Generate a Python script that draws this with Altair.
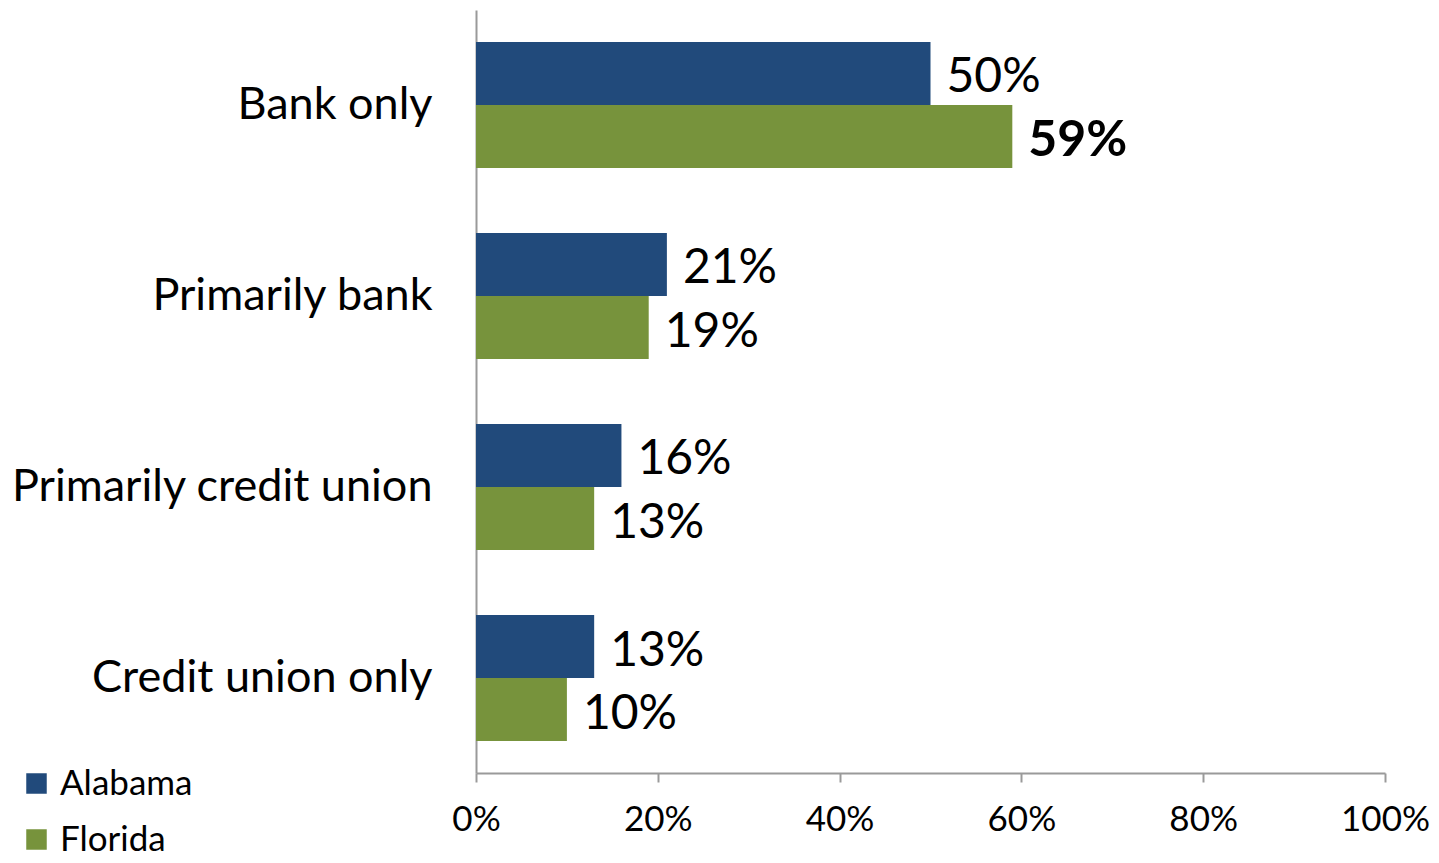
import altair as alt
import pandas as pd

categories = ["Bank only", "Primarily bank", "Primarily credit union", "Credit union only"]
series = ["Alabama", "Florida"]
alabama = [50, 21, 16, 13]
florida = [59, 19, 13, 10]
x_ticks = [0, 20, 40, 60, 80, 100]

rows = []
for c, a, f in zip(categories, alabama, florida):
    rows.append({"category": c, "state": "Alabama", "value": a})
    rows.append({"category": c, "state": "Florida", "value": f})
df = pd.DataFrame(rows)

FONT = "Lato"
colors = ["#214a7b", "#77933c"]

y_enc = alt.Y("category:N", sort=categories,
              scale=alt.Scale(paddingInner=0.34, paddingOuter=0.167),
              axis=alt.Axis(title=None, ticks=False, labelFontSize=45, labelFont=FONT,
                            labelColor="#000000", labelPadding=44, domainColor="#9a9a9a",
                            domainWidth=2, labelLimit=600))
yoff = alt.YOffset("state:N", sort=series, scale=alt.Scale(paddingInner=0, paddingOuter=0))
x_enc = alt.X("value:Q", scale=alt.Scale(domain=[0, 100], nice=False),
              axis=alt.Axis(title=None, values=x_ticks, labelExpr="datum.value + '%'",
                            grid=False, tickSize=9, tickColor="#9a9a9a", domainColor="#9a9a9a",
                            domainWidth=2, tickWidth=2, labelFlush=False, labelOverlap=False,
                            labelFontSize=35, labelFont=FONT, labelColor="#000000", labelPadding=20))

base = alt.Chart(df)
bars = base.mark_bar().encode(
    x=x_enc, y=y_enc, yOffset=yoff,
    color=alt.Color("state:N", sort=series, scale=alt.Scale(domain=series, range=colors),
                    legend=alt.Legend(title=None, orient="none", legendX=-457, legendY=756,
                                      symbolType="square", symbolSize=420, symbolStrokeWidth=0,
                                      labelFontSize=35, labelFont=FONT, labelColor="#000000",
                                      rowPadding=20, labelOffset=6)),
)
cond_bold = "datum.state == 'Florida' && datum.category == 'Bank only'"
labels = base.mark_text(align="left", baseline="middle", dx=16, dy=5, fontSize=48, font=FONT,
                        color="#000000").encode(
    x="value:Q", y=alt.Y("category:N", sort=categories), yOffset=alt.YOffset("state:N", sort=series),
    text=alt.Text("label:N"),
).transform_calculate(label="datum.value + '%'").transform_filter("!(" + cond_bold + ")")
bold = base.mark_text(align="left", baseline="middle", dx=16, dy=5, fontSize=50, font=FONT,
                      fontWeight="bold", color="#000000").encode(
    x="value:Q", y=alt.Y("category:N", sort=categories), yOffset=alt.YOffset("state:N", sort=series),
    text=alt.Text("label:N"),
).transform_calculate(label="datum.value + '%'").transform_filter(cond_bold)

chart = alt.layer(bars, labels, bold).properties(
    width=909, height=763,
    padding={"left": 468, "top": 2, "right": 46, "bottom": 90},
    autosize=alt.AutoSizeParams(type="none"),
    background="white",
).configure_view(stroke=None, strokeWidth=0)

chart.save("out.html", embed_options={"renderer": "svg", "actions": False})
